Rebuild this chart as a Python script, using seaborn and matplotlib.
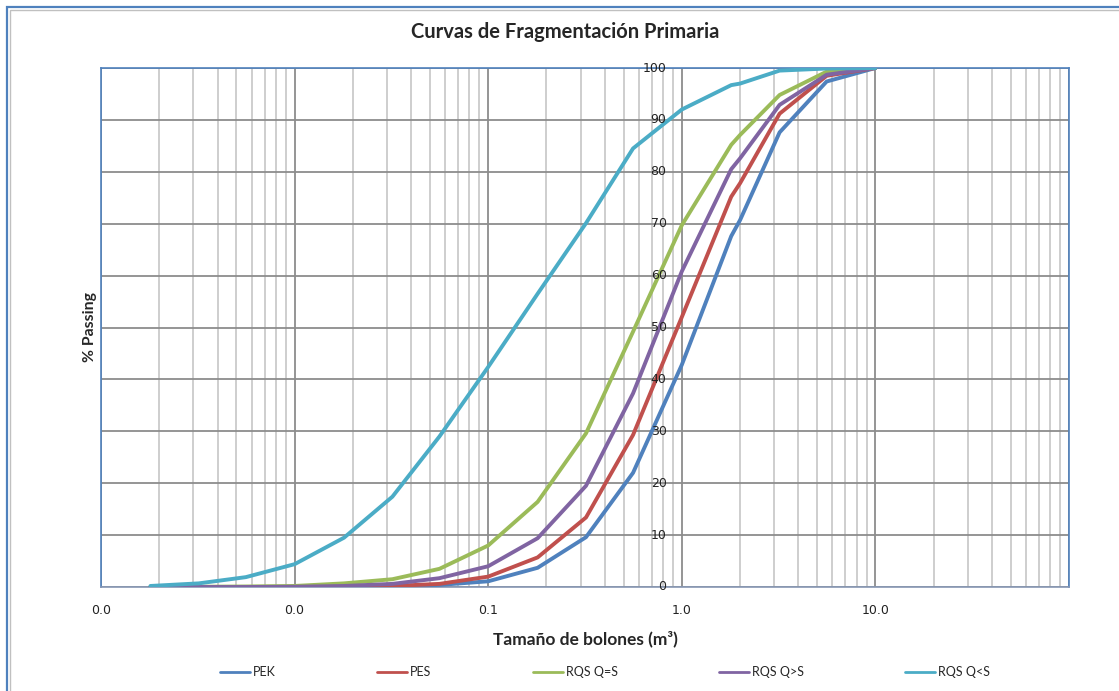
import matplotlib
matplotlib.use('Agg')
import matplotlib.pyplot as plt
import seaborn as sns
import pandas as pd
import numpy as np
from matplotlib.patches import Rectangle
from matplotlib.ticker import FixedLocator, LogLocator, NullFormatter

# Tamaño de bolón (m3) y % pasante por curva
tamanos = [0.0018, 0.0032, 0.0056, 0.01, 0.018, 0.032, 0.056, 0.1, 0.18, 0.32,
           0.56, 1.0, 1.8, 2.0, 3.2, 5.6, 10.0]
pek = [0, 0, 0, 0, 0, 0.05, 0.4, 1.1, 3.7, 9.6, 22.0, 42.8, 67.6, 70.7, 87.6, 97.4, 100]
pes = [0, 0, 0, 0, 0.05, 0.2, 0.6, 2.0, 5.7, 13.4, 29.3, 52.0, 75.2, 77.8, 91.2, 98.5, 100]
rqs_igual = [0, 0.05, 0.1, 0.2, 0.7, 1.5, 3.5, 8.0, 16.4, 29.6, 49.2, 69.7, 85.2, 87.1, 94.8, 99.3, 100]
rqs_mayor = [0, 0, 0, 0.05, 0.2, 0.6, 1.7, 4.0, 9.4, 19.5, 37.3, 60.8, 80.5, 82.6, 92.9, 98.7, 100]
rqs_menor = [0.2, 0.7, 1.9, 4.4, 9.5, 17.4, 29.0, 42.4, 56.5, 70.1, 84.5, 92.0, 96.7, 97.0, 99.5, 99.9, 100]

series = ['PEK', 'PES', 'RQS Q=S', 'RQS Q>S', 'RQS Q<S']
colores = ['#4F81BD', '#C0504D', '#9BBB59', '#8064A2', '#4BACC6']
xticks = [0.001, 0.01, 0.1, 1, 10, 100]
xlabels = ['0.0', '0.0', '0.1', '1.0', '10.0', '']
yticks = [0, 10, 20, 30, 40, 50, 60, 70, 80, 90, 100]

df = pd.DataFrame({
    'tamano': tamanos * len(series),
    'pasante': pek + pes + rqs_igual + rqs_mayor + rqs_menor,
    'serie': np.repeat(series, len(tamanos)),
})

sns.set_theme(style='white')
plt.rcParams['font.family'] = ['Lato', 'DejaVu Sans']

fig = plt.figure(figsize=(11.19, 6.91), dpi=100)
W, H = 1119, 691
ax = fig.add_axes([101 / W, 1 - 587 / H, (1069 - 101) / W, (587 - 68) / H])
ax.set_xscale('log')

sns.lineplot(data=df, x='tamano', y='pasante', hue='serie', hue_order=series,
             palette=colores, estimator=None, linewidth=2.8, ax=ax, zorder=3)

ax.set_xlim(0.001, 100)
ax.set_ylim(0, 100)

# rejilla estilo Excel
ax.xaxis.set_major_locator(FixedLocator(xticks))
ax.xaxis.set_minor_locator(LogLocator(base=10, subs=range(2, 10)))
ax.xaxis.set_minor_formatter(NullFormatter())
ax.set_xticklabels(xlabels, family='DejaVu Sans', fontsize=9, color='#222222')
ax.set_yticks(yticks)
ax.grid(which='major', axis='x', color='#8C8C8C', linewidth=1.3)
ax.grid(which='minor', axis='x', color='#C6C6C6', linewidth=1.2)
ax.grid(which='major', axis='y', color='#8C8C8C', linewidth=1.3)
ax.set_axisbelow(True)
ax.tick_params(axis='x', which='both', length=0, pad=12)
ax.tick_params(axis='y', which='both', length=0, labelleft=False)

# eje vertical cruzando en 1.0
for v in yticks:
    ax.annotate(str(v), xy=(1, v), xytext=(-11, 0), textcoords='offset points',
                ha='right', va='center', family='DejaVu Sans', fontsize=9,
                color='#222222', zorder=4)

for lado in ['left', 'top', 'right']:
    ax.spines[lado].set_color('#4F81BD')
    ax.spines[lado].set_linewidth(1.2)
ax.spines['bottom'].set_color('#8797B4')
ax.spines['bottom'].set_linewidth(1.2)

ax.set_xlabel('Tamaño de bolones (m³)', fontsize=12.5, fontweight='bold', labelpad=10)
ax.set_ylabel('% Passing', fontsize=11.3, fontweight='bold', labelpad=3)
fig.text(565 / W, 1 - 32 / H, 'Curvas de Fragmentación Primaria', ha='center',
         va='center', fontsize=14.5, fontweight='bold')

handles, labels = ax.get_legend_handles_labels()
ax.get_legend().remove()
leg = fig.legend(handles, labels, ncol=5, loc='center',
                 bbox_to_anchor=(605 / W, 1 - 672 / H), frameon=False,
                 fontsize=9, handlelength=2.4, handletextpad=0.25,
                 columnspacing=8.1)
for ln in leg.get_lines():
    ln.set_linewidth(2)

# marco del gráfico
fig.patches.append(Rectangle((7 / W, -0.1), 1.2, 1 - 7 / H + 0.1,
                             transform=fig.transFigure, fill=False,
                             edgecolor='#4F81BD', linewidth=1.6))
fig.patches.append(Rectangle((10 / W, -0.1), 1.2, 1 - 10 / H + 0.1,
                             transform=fig.transFigure, fill=False,
                             edgecolor='#C0C0C0', linewidth=1.0))

plt.savefig('out.png', dpi=100)
plt.close()
